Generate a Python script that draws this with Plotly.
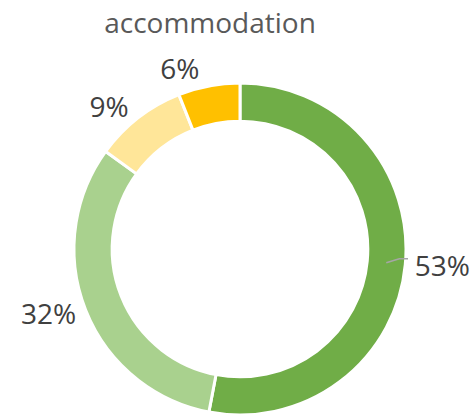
import math
import plotly.graph_objects as go

categories = ["A", "B", "C", "D"]
values = [53, 32, 9, 6]
colors = ["#70AD47", "#A9D18E", "#FFE699", "#FFC000"]
title = "accommodation"

W, H = 474, 419
cx, cy, r = 240, 249, 166
hole = 0.77

fig = go.Figure(go.Pie(
    labels=categories, values=values, sort=False, direction="clockwise",
    rotation=0, hole=hole,
    marker=dict(colors=colors, line=dict(color="white", width=3)),
    textinfo="percent", textposition="outside",
    texttemplate="%{percent:.0%}",
    textfont=dict(size=28, color="#404040", family="Open Sans"),
    domain=dict(x=[(cx - r) / W, (cx + r) / W], y=[1 - (cy + r) / H, 1 - (cy - r) / H]),
    showlegend=False, hoverinfo="skip",
))

# leader line for the largest slice, derived from its mid angle
total = sum(values)
mid = (values[0] / 2) / total * 2 * math.pi
rm = r * (1 + hole) / 2
x0 = cx + rm * math.sin(mid)
y0 = cy - rm * math.cos(mid)
x1 = cx + (r - 8) * math.sin(mid) + 2
y1 = y0 - 4
x2 = cx + r + 2
to_px = lambda x, y: (x / W, 1 - y / H)
p0, p1, p2 = to_px(x0, y0), to_px(x1, y1), to_px(x2, y1)
fig.add_shape(type="path", xref="paper", yref="paper",
              path=f"M {p0[0]} {p0[1]} L {p1[0]} {p1[1]} L {p2[0]} {p2[1]}",
              line=dict(color="#A6A6A6", width=1.5))

fig.update_layout(
    width=W, height=H, margin=dict(l=0, r=0, t=0, b=0),
    paper_bgcolor="white", plot_bgcolor="white",
    title=dict(text=title, x=210 / W, xanchor="center", y=1 - 23 / H, yanchor="middle",
               font=dict(size=28, color="#595959", family="Open Sans")),
)
fig.write_html("out.html", config={"displayModeBar": False},
               post_script="document.body.style.margin='0';")
